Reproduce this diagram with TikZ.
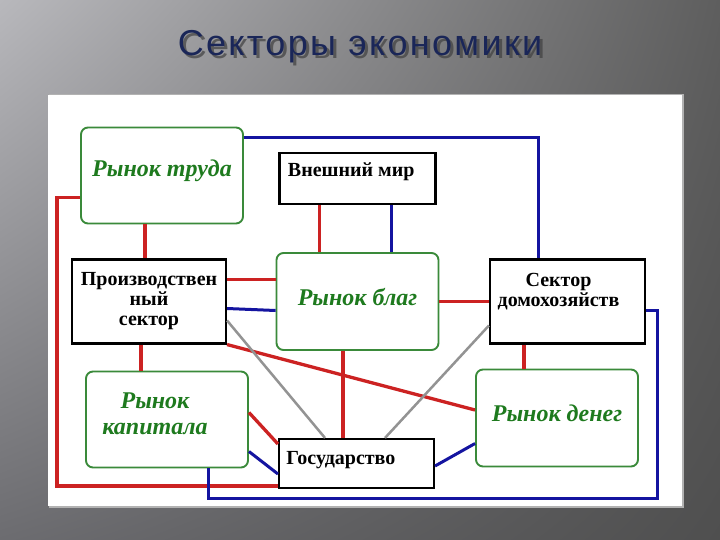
\documentclass[tikz,border=0pt]{standalone}
\usepackage{fontspec}
\setmainfont{Liberation Serif}
\newfontfamily\titlefont[LetterSpace=6.5]{Liberation Sans}
\usetikzlibrary{calc,shadings}

\definecolor{linered}{HTML}{CC2222}
\definecolor{lineblue}{HTML}{1414A0}
\definecolor{boxgreen}{HTML}{3A8A3A}
\definecolor{textgreen}{HTML}{1E7A1E}
\definecolor{titleblue}{HTML}{1A2658}
\definecolor{bgul}{HTML}{B8B8BC}
\definecolor{bgur}{HTML}{5E5E5E}
\definecolor{bgll}{HTML}{6C6C70}
\definecolor{bglr}{HTML}{4F4F4F}

\tikzset{
  greenbox/.style={draw=boxgreen,line width=1.9pt,rounded corners=7pt,minimum width=162pt,minimum height=96pt},
  blackbox/.style={draw=black,line width=2.1pt,minimum width=155pt,minimum height=84pt},
  greentext/.style={text=textgreen,font=\fontsize{24}{26}\selectfont\bfseries\itshape,align=center},
  blacktext/.style={font=\fontsize{20}{20}\selectfont\bfseries,align=center},
  redline/.style={draw=linered,line width=3.3pt},
  blueline/.style={draw=lineblue,line width=3pt},
  grayline/.style={draw=gray!85,line width=2.5pt}
}

\begin{document}
\begin{tikzpicture}[x=1pt,y=1pt]
\shade[upper left=bgul,upper right=bgur,lower left=bgll,lower right=bglr] (0,0) rectangle (720,-540);
\useasboundingbox (0,0) rectangle (720,-540);
\fill[black!30] (49,-94) rectangle (684,-508);
\fill[white] (48,-95) rectangle (682,-506);

% title
\node[text=black!75,opacity=0.7,font=\titlefont\fontsize{36}{38}\selectfont] (title_shadow) at (363,-50) {Секторы экономики};
\node[text=titleblue,font=\titlefont\fontsize{36}{38}\selectfont] (title) at (360,-47) {Секторы экономики};

% boxes
\node[greenbox,minimum height=97pt] (blag) at (357.5,-301.5) {};
\node[blackbox,minimum width=156pt,minimum height=51pt,above of=blag,node distance=123pt] (mir) {};
\node[blackbox,minimum width=154pt,left of=blag,node distance=208.5pt] (proizv) {};
\node[blackbox,right of=blag,node distance=210pt] (dom) {};
\node[greenbox,above of=proizv,node distance=126pt,xshift=13pt] (trud) {};
\node[greenbox,below of=proizv,node distance=118pt,xshift=18pt] (kapital) {};
\node[blackbox,minimum height=49pt,below of=blag,node distance=162pt,xshift=-1pt] (gos) {};
\node[greenbox,minimum height=97pt,below of=dom,node distance=116.5pt,xshift=-10.5pt] (dengi) {};

% texts
\node[greentext] (trud_txt) at ([yshift=5pt]trud.center) {Рынок труда};
\node[greentext] (blag_txt) at ([yshift=4.5pt]blag.center) {Рынок благ};
\node[greentext] (dengi_txt) at ([yshift=4.5pt]dengi.center) {Рынок денег};
\node[greentext] (kapital_txt) at ([xshift=-12pt,yshift=5.5pt]kapital.center) {Рынок\\капитала};
\node[blacktext,anchor=west] (mir_txt) at ([xshift=6pt,yshift=6.5pt]mir.west) {Внешний мир};
\node[blacktext,anchor=west] (gos_txt) at ([xshift=5pt,yshift=3.5pt]gos.west) {Государство};
\node[blacktext] (dom_txt) at ([xshift=-9pt,yshift=9.5pt]dom.center) {Сектор\\домохозяйств};
\node[blacktext] (proizv_txt) at ([yshift=0pt]proizv.center) {Производствен\\ный\\сектор};

% corners of the outer lines
\coordinate (redcorner) at (57,-486);
\coordinate (bluecorner) at (657,-498);

% red links
\draw[redline] ([xshift=-17pt]trud.south) -- ([xshift=-17pt]trud.south |- proizv.north);
\draw[redline] ([yshift=-22pt]trud.west) -| (redcorner) -- (redcorner -| gos.west);
\draw[redline] ([xshift=-38pt]mir.south) -- ([xshift=-38pt]mir.south |- blag.north);
\draw[redline] ([yshift=22pt]proizv.east) -- ([yshift=22pt]proizv.east -| blag.west);
\draw[redline] ([xshift=-8pt]proizv.south) -- ([xshift=-8pt]proizv.south |- kapital.north);
\draw[redline] (proizv.south east) -- ([yshift=8pt]dengi.west);
\draw[redline] (blag.east) -- (blag.east -| dom.west);
\draw[redline] ([xshift=-14.5pt]blag.south) -- ([xshift=-14.5pt]blag.south |- gos.north);
\draw[redline] ([xshift=-43.5pt]dom.south) -- ([xshift=-43.5pt]dom.south |- dengi.north);
\draw[redline] ([yshift=7pt]kapital.east) -- ([yshift=19.5pt]gos.west);

% blue links
\draw[blueline] ([xshift=34pt]mir.south) -- ([xshift=34pt]mir.south |- blag.north);
\draw[blueline] ([yshift=-7pt]proizv.east) -- ([yshift=-9pt]blag.west);
\draw[blueline] ([yshift=38pt]trud.east) -| ([xshift=-29.5pt]dom.north);
\draw[blueline] ([yshift=-9pt]dom.east) -| (bluecorner) -| ([xshift=41pt]kapital.south);
\draw[blueline] ([yshift=-2.5pt]gos.east) -- ([yshift=-25.5pt]dengi.west);
\draw[blueline] ([yshift=-32pt]kapital.east) -- ([yshift=-10.5pt]gos.west);

% gray links
\draw[grayline] ([yshift=-19pt]proizv.east) -- ([xshift=-31.5pt]gos.north);
\draw[grayline] ([yshift=-24pt]dom.west) -- ([xshift=28.5pt]gos.north);
\end{tikzpicture}
\end{document}
